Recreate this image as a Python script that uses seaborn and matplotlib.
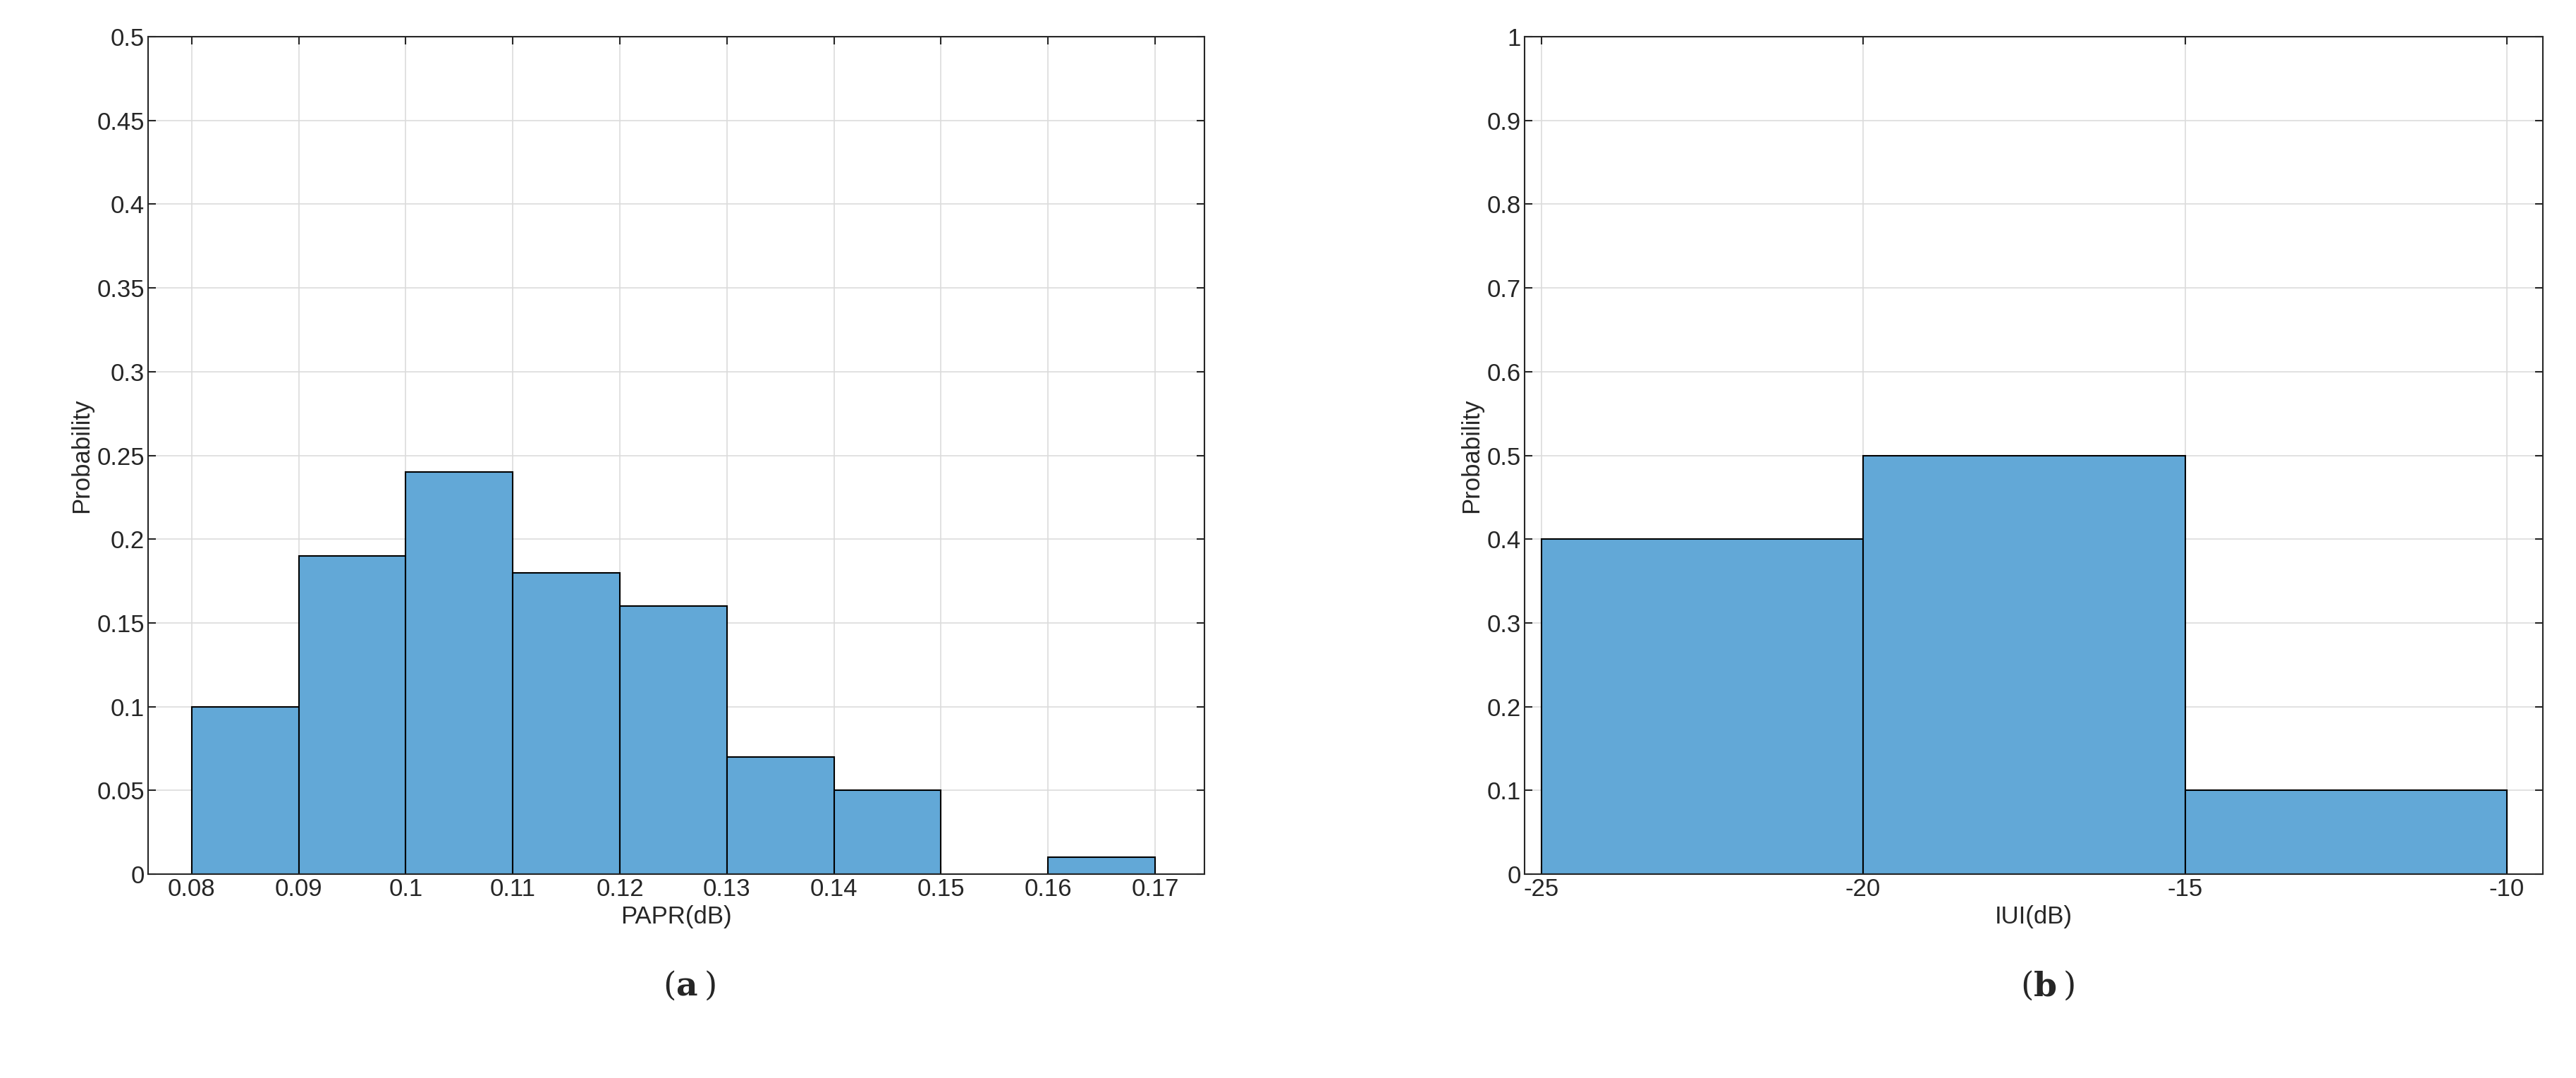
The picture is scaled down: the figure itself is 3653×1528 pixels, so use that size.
import matplotlib
matplotlib.use("Agg")
import matplotlib.pyplot as plt
import seaborn as sns
import numpy as np

papr_edges = [0.08, 0.09, 0.10, 0.11, 0.12, 0.13, 0.14, 0.15, 0.16, 0.17]
papr_prob = [0.10, 0.19, 0.24, 0.18, 0.16, 0.07, 0.05, 0.0, 0.01]
iui_edges = [-25, -20, -15, -10]
iui_prob = [0.40, 0.50, 0.10]

sns.set_style("white")
plt.rcParams['font.family'] = ['Arial', 'Liberation Sans', 'DejaVu Sans']
fig = plt.figure(figsize=(36.53, 15.28), dpi=100)
ax1 = fig.add_axes([0.0574, 0.189, 0.4101, 0.777])
ax2 = fig.add_axes([0.5918, 0.189, 0.3954, 0.777])
color = "#62A8D7"
fs = 25

def draw(ax, edges, prob, xlim, ylim, yticks, xticks, xlabels, xlabel, ylabels):
    centers = [(edges[i] + edges[i+1]) / 2 for i in range(len(prob))]
    sns.histplot(x=centers, weights=prob, bins=edges, ax=ax, color=color,
                 edgecolor="black", linewidth=1.5, alpha=1)
    ax.set_xlim(*xlim); ax.set_ylim(*ylim)
    ax.set_yticks(yticks); ax.set_yticklabels(ylabels)
    ax.set_xticks(xticks); ax.set_xticklabels(xlabels)
    ax.grid(True, color="#dcdcdc", linewidth=1.2)
    ax.set_axisbelow(True)
    for s in ax.spines.values():
        s.set_color("#262626"); s.set_linewidth(1.5)
    ax.tick_params(labelsize=fs, colors="#262626", direction="in", length=8, width=1.5,
                   top=True, right=True, bottom=True, left=True)
    ax.set_xlabel(xlabel, fontsize=fs, color="#262626")
    ax.set_ylabel("Probability", fontsize=fs, color="#262626")

yt1 = np.round(np.arange(0, 0.501, 0.05), 2)
draw(ax1, papr_edges, papr_prob, (0.0759, 0.1746), (0, 0.5), yt1,
     papr_edges, [f"{v:g}" for v in papr_edges], "PAPR(dB)", [f"{v:g}" for v in yt1])
yt2 = np.round(np.arange(0, 1.01, 0.1), 1)
draw(ax2, iui_edges, iui_prob, (-25.26, -9.44), (0, 1), yt2,
     iui_edges, [str(v) for v in iui_edges], "IUI(dB)", [f"{v:g}" for v in yt2])

fig.text(0.2624, 0.085, "(", fontsize=34, family="DejaVu Serif", ha="right", va="center")
fig.text(0.2624, 0.085, "a", fontsize=34, family="DejaVu Serif", weight="bold", ha="left", va="center")
fig.text(0.2735, 0.085, ")", fontsize=34, family="DejaVu Serif", ha="left", va="center")
fig.text(0.7895, 0.085, "(", fontsize=34, family="DejaVu Serif", ha="right", va="center")
fig.text(0.7895, 0.085, "b", fontsize=34, family="DejaVu Serif", weight="bold", ha="left", va="center")
fig.text(0.8010, 0.085, ")", fontsize=34, family="DejaVu Serif", ha="left", va="center")
fig.savefig("out.png", dpi=100)
